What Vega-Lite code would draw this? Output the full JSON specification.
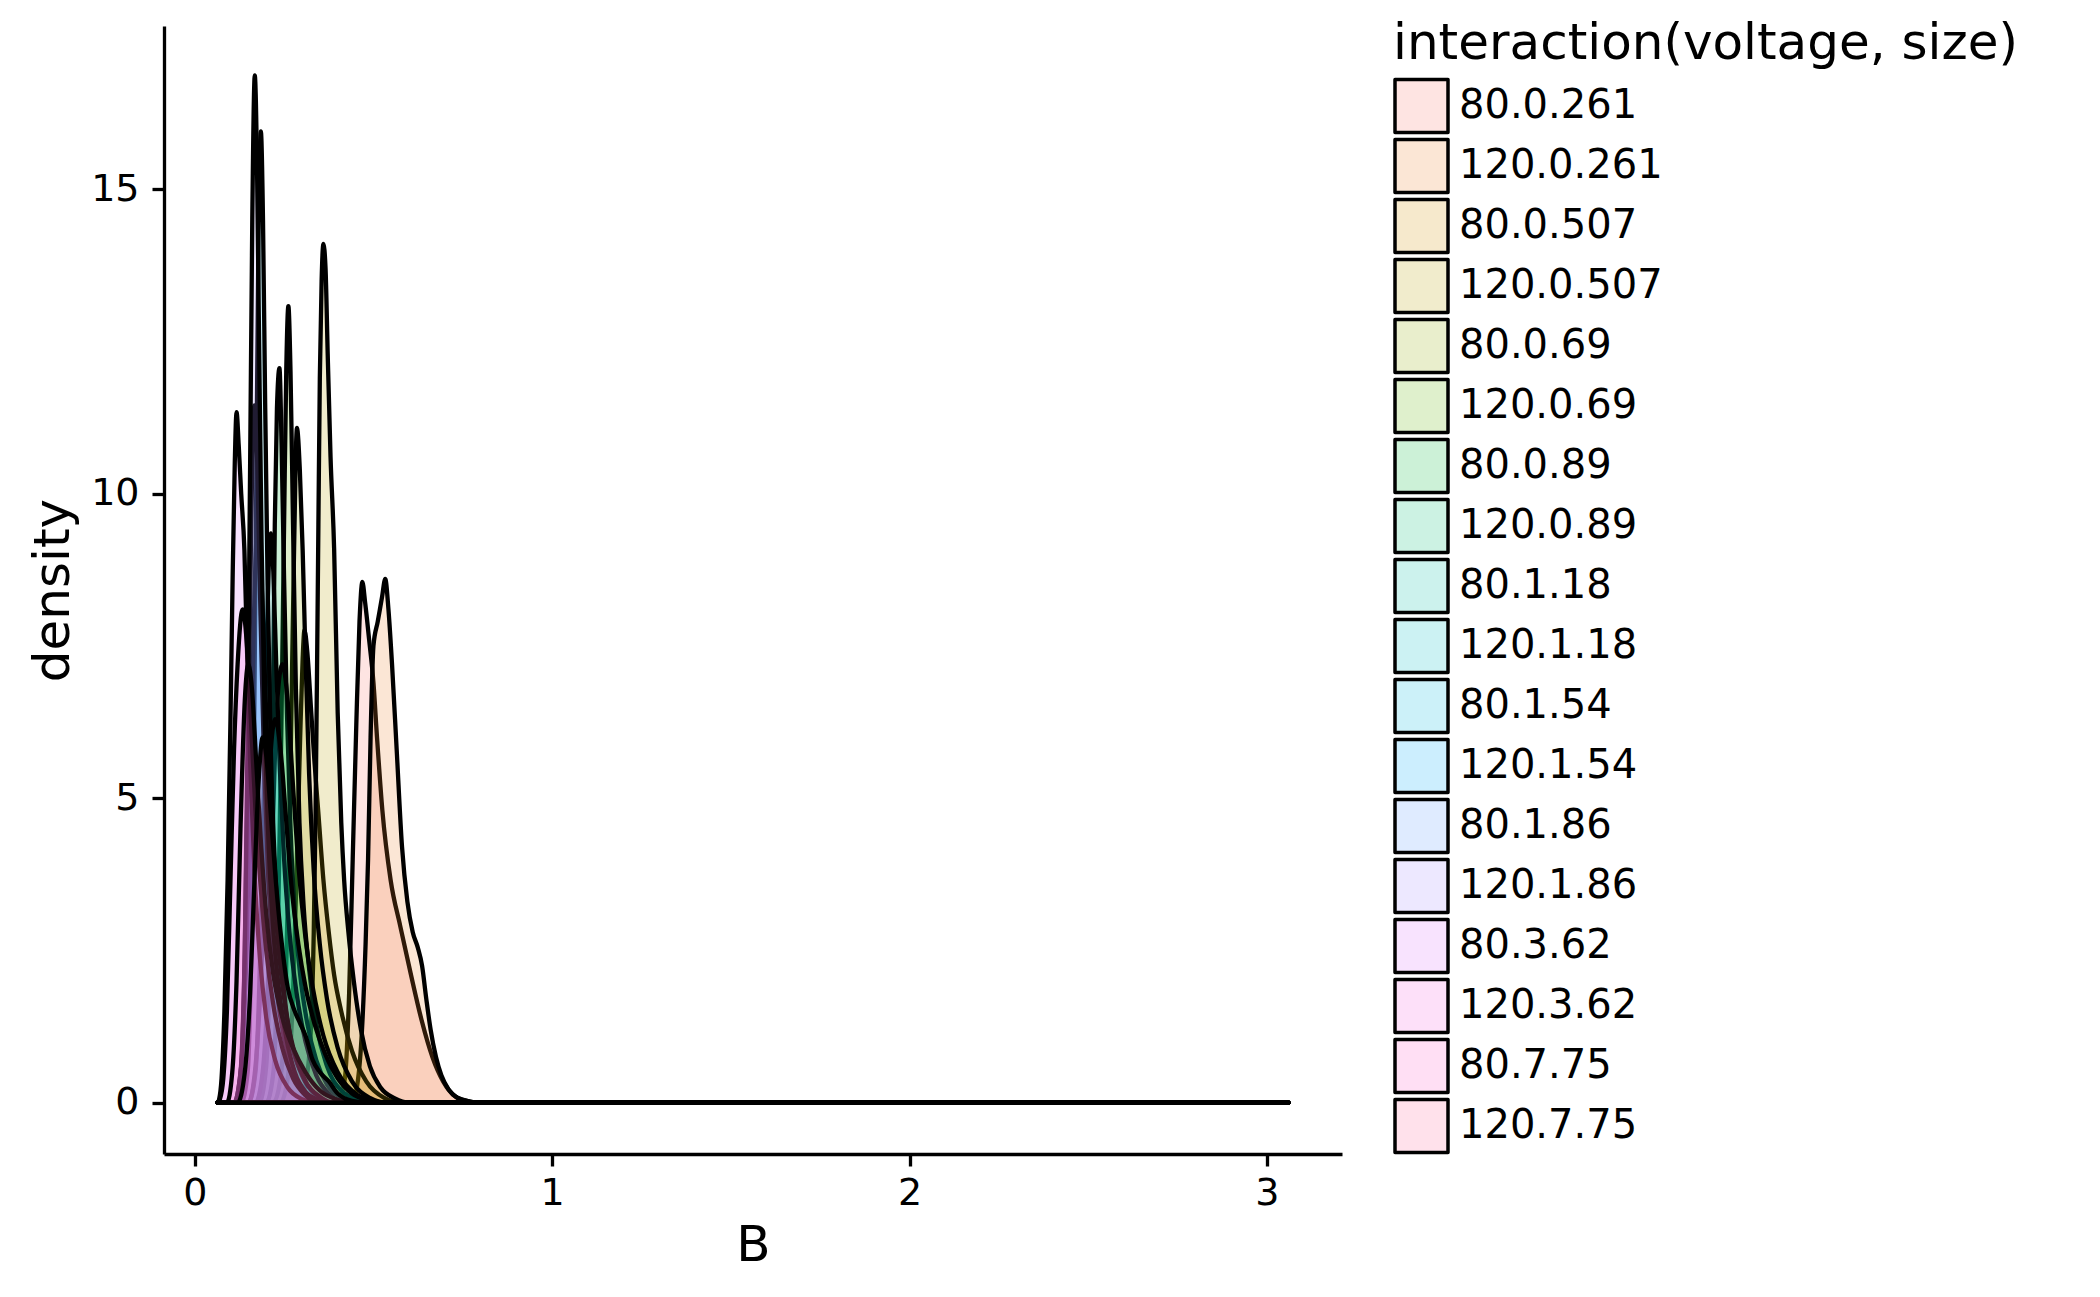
{
  "$schema": "https://vega.github.io/schema/vega-lite/v6.json",
  "width": 1178,
  "height": 1128,
  "autosize": {"type": "none"},
  "padding": {"left": 164, "top": 26, "right": 758, "bottom": 143},
  "background": "white",
  "config": {
    "view": {"stroke": null},
    "font": "DejaVu Sans"
  },
  "data": {
    "values": [
      {"g": "80.0.261", "B": 0.064, "d": 0}, {"g": "80.0.261", "B": 0.40, "d": 0}, {"g": "80.0.261", "B": 0.42, "d": 0.4},
      {"g": "80.0.261", "B": 0.432, "d": 1.8}, {"g": "80.0.261", "B": 0.442, "d": 4.0}, {"g": "80.0.261", "B": 0.452, "d": 6.2},
      {"g": "80.0.261", "B": 0.461, "d": 7.9}, {"g": "80.0.261", "B": 0.469, "d": 8.55}, {"g": "80.0.261", "B": 0.477, "d": 8.2},
      {"g": "80.0.261", "B": 0.488, "d": 7.6}, {"g": "80.0.261", "B": 0.50, "d": 6.9}, {"g": "80.0.261", "B": 0.51, "d": 6.0},
      {"g": "80.0.261", "B": 0.525, "d": 4.8}, {"g": "80.0.261", "B": 0.548, "d": 3.66}, {"g": "80.0.261", "B": 0.575, "d": 2.9},
      {"g": "80.0.261", "B": 0.605, "d": 2.1}, {"g": "80.0.261", "B": 0.635, "d": 1.35}, {"g": "80.0.261", "B": 0.665, "d": 0.75},
      {"g": "80.0.261", "B": 0.695, "d": 0.35}, {"g": "80.0.261", "B": 0.73, "d": 0.1}, {"g": "80.0.261", "B": 0.77, "d": 0.02},
      {"g": "80.0.261", "B": 0.80, "d": 0}, {"g": "80.0.261", "B": 3.06, "d": 0},

      {"g": "120.0.261", "B": 0.064, "d": 0}, {"g": "120.0.261", "B": 0.44, "d": 0}, {"g": "120.0.261", "B": 0.455, "d": 0.3},
      {"g": "120.0.261", "B": 0.468, "d": 1.2}, {"g": "120.0.261", "B": 0.478, "d": 2.6}, {"g": "120.0.261", "B": 0.485, "d": 4.0},
      {"g": "120.0.261", "B": 0.492, "d": 6.0}, {"g": "120.0.261", "B": 0.50, "d": 7.5}, {"g": "120.0.261", "B": 0.512, "d": 7.9},
      {"g": "120.0.261", "B": 0.524, "d": 8.3}, {"g": "120.0.261", "B": 0.533, "d": 8.6}, {"g": "120.0.261", "B": 0.542, "d": 8.1},
      {"g": "120.0.261", "B": 0.552, "d": 7.2}, {"g": "120.0.261", "B": 0.565, "d": 5.8}, {"g": "120.0.261", "B": 0.58, "d": 4.2},
      {"g": "120.0.261", "B": 0.595, "d": 3.3}, {"g": "120.0.261", "B": 0.61, "d": 2.8}, {"g": "120.0.261", "B": 0.624, "d": 2.55},
      {"g": "120.0.261", "B": 0.636, "d": 2.25}, {"g": "120.0.261", "B": 0.648, "d": 1.7}, {"g": "120.0.261", "B": 0.66, "d": 1.2},
      {"g": "120.0.261", "B": 0.675, "d": 0.75}, {"g": "120.0.261", "B": 0.69, "d": 0.45}, {"g": "120.0.261", "B": 0.71, "d": 0.22},
      {"g": "120.0.261", "B": 0.735, "d": 0.08}, {"g": "120.0.261", "B": 0.77, "d": 0.02}, {"g": "120.0.261", "B": 0.80, "d": 0},
      {"g": "120.0.261", "B": 3.06, "d": 0},

      {"g": "80.0.507", "B": 0.064, "d": 0}, {"g": "80.0.507", "B": 0.24, "d": 0}, {"g": "80.0.507", "B": 0.26, "d": 0.4},
      {"g": "80.0.507", "B": 0.275, "d": 1.8}, {"g": "80.0.507", "B": 0.285, "d": 3.8}, {"g": "80.0.507", "B": 0.295, "d": 6.0},
      {"g": "80.0.507", "B": 0.302, "d": 7.3}, {"g": "80.0.507", "B": 0.307, "d": 7.76}, {"g": "80.0.507", "B": 0.315, "d": 7.4},
      {"g": "80.0.507", "B": 0.325, "d": 6.5}, {"g": "80.0.507", "B": 0.335, "d": 5.6}, {"g": "80.0.507", "B": 0.346, "d": 4.75},
      {"g": "80.0.507", "B": 0.36, "d": 3.66}, {"g": "80.0.507", "B": 0.375, "d": 2.8}, {"g": "80.0.507", "B": 0.39, "d": 2.1},
      {"g": "80.0.507", "B": 0.41, "d": 1.5}, {"g": "80.0.507", "B": 0.44, "d": 0.85}, {"g": "80.0.507", "B": 0.48, "d": 0.35},
      {"g": "80.0.507", "B": 0.53, "d": 0.08}, {"g": "80.0.507", "B": 0.58, "d": 0}, {"g": "80.0.507", "B": 3.06, "d": 0},

      {"g": "120.0.507", "B": 0.064, "d": 0}, {"g": "120.0.507", "B": 0.29, "d": 0}, {"g": "120.0.507", "B": 0.31, "d": 0.3},
      {"g": "120.0.507", "B": 0.325, "d": 1.2}, {"g": "120.0.507", "B": 0.333, "d": 2.8}, {"g": "120.0.507", "B": 0.338, "d": 4.7},
      {"g": "120.0.507", "B": 0.342, "d": 7.0}, {"g": "120.0.507", "B": 0.346, "d": 9.5}, {"g": "120.0.507", "B": 0.35, "d": 11.9},
      {"g": "120.0.507", "B": 0.355, "d": 13.5}, {"g": "120.0.507", "B": 0.36, "d": 14.1}, {"g": "120.0.507", "B": 0.366, "d": 13.7},
      {"g": "120.0.507", "B": 0.372, "d": 12.3}, {"g": "120.0.507", "B": 0.38, "d": 10.6}, {"g": "120.0.507", "B": 0.39, "d": 9.1},
      {"g": "120.0.507", "B": 0.40, "d": 6.4}, {"g": "120.0.507", "B": 0.41, "d": 4.6}, {"g": "120.0.507", "B": 0.418, "d": 3.66},
      {"g": "120.0.507", "B": 0.43, "d": 2.8}, {"g": "120.0.507", "B": 0.445, "d": 2.0}, {"g": "120.0.507", "B": 0.465, "d": 1.2},
      {"g": "120.0.507", "B": 0.49, "d": 0.6}, {"g": "120.0.507", "B": 0.52, "d": 0.25}, {"g": "120.0.507", "B": 0.56, "d": 0.07},
      {"g": "120.0.507", "B": 0.60, "d": 0}, {"g": "120.0.507", "B": 3.06, "d": 0},

      {"g": "80.0.69", "B": 0.064, "d": 0}, {"g": "80.0.69", "B": 0.22, "d": 0}, {"g": "80.0.69", "B": 0.24, "d": 0.4},
      {"g": "80.0.69", "B": 0.255, "d": 2.0}, {"g": "80.0.69", "B": 0.265, "d": 4.5}, {"g": "80.0.69", "B": 0.272, "d": 7.0},
      {"g": "80.0.69", "B": 0.278, "d": 9.1}, {"g": "80.0.69", "B": 0.286, "d": 11.08}, {"g": "80.0.69", "B": 0.294, "d": 10.4},
      {"g": "80.0.69", "B": 0.302, "d": 9.07}, {"g": "80.0.69", "B": 0.31, "d": 7.3}, {"g": "80.0.69", "B": 0.32, "d": 5.4},
      {"g": "80.0.69", "B": 0.333, "d": 3.8}, {"g": "80.0.69", "B": 0.35, "d": 2.6}, {"g": "80.0.69", "B": 0.37, "d": 1.7},
      {"g": "80.0.69", "B": 0.40, "d": 0.9}, {"g": "80.0.69", "B": 0.44, "d": 0.35}, {"g": "80.0.69", "B": 0.49, "d": 0.08},
      {"g": "80.0.69", "B": 0.54, "d": 0}, {"g": "80.0.69", "B": 3.06, "d": 0},

      {"g": "120.0.69", "B": 0.064, "d": 0}, {"g": "120.0.69", "B": 0.20, "d": 0}, {"g": "120.0.69", "B": 0.22, "d": 0.5},
      {"g": "120.0.69", "B": 0.232, "d": 2.5}, {"g": "120.0.69", "B": 0.242, "d": 6.0}, {"g": "120.0.69", "B": 0.25, "d": 9.5},
      {"g": "120.0.69", "B": 0.256, "d": 12.0}, {"g": "120.0.69", "B": 0.262, "d": 13.08}, {"g": "120.0.69", "B": 0.268, "d": 12.0},
      {"g": "120.0.69", "B": 0.275, "d": 9.5}, {"g": "120.0.69", "B": 0.283, "d": 6.8}, {"g": "120.0.69", "B": 0.293, "d": 4.6},
      {"g": "120.0.69", "B": 0.305, "d": 3.2}, {"g": "120.0.69", "B": 0.32, "d": 2.2}, {"g": "120.0.69", "B": 0.34, "d": 1.3},
      {"g": "120.0.69", "B": 0.37, "d": 0.6}, {"g": "120.0.69", "B": 0.41, "d": 0.2}, {"g": "120.0.69", "B": 0.46, "d": 0.04},
      {"g": "120.0.69", "B": 0.50, "d": 0}, {"g": "120.0.69", "B": 3.06, "d": 0},

      {"g": "80.0.89", "B": 0.064, "d": 0}, {"g": "80.0.89", "B": 0.18, "d": 0}, {"g": "80.0.89", "B": 0.20, "d": 0.6},
      {"g": "80.0.89", "B": 0.21, "d": 2.5}, {"g": "80.0.89", "B": 0.218, "d": 6.0}, {"g": "80.0.89", "B": 0.224, "d": 9.5},
      {"g": "80.0.89", "B": 0.23, "d": 11.4}, {"g": "80.0.89", "B": 0.237, "d": 12.06}, {"g": "80.0.89", "B": 0.243, "d": 10.8},
      {"g": "80.0.89", "B": 0.25, "d": 8.6}, {"g": "80.0.89", "B": 0.258, "d": 6.4}, {"g": "80.0.89", "B": 0.268, "d": 4.5},
      {"g": "80.0.89", "B": 0.28, "d": 3.1}, {"g": "80.0.89", "B": 0.295, "d": 2.1}, {"g": "80.0.89", "B": 0.315, "d": 1.3},
      {"g": "80.0.89", "B": 0.34, "d": 0.7}, {"g": "80.0.89", "B": 0.37, "d": 0.3}, {"g": "80.0.89", "B": 0.41, "d": 0.08},
      {"g": "80.0.89", "B": 0.45, "d": 0}, {"g": "80.0.89", "B": 3.06, "d": 0},

      {"g": "120.0.89", "B": 0.064, "d": 0}, {"g": "120.0.89", "B": 0.17, "d": 0}, {"g": "120.0.89", "B": 0.19, "d": 0.5},
      {"g": "120.0.89", "B": 0.205, "d": 2.0}, {"g": "120.0.89", "B": 0.218, "d": 4.5}, {"g": "120.0.89", "B": 0.23, "d": 6.5},
      {"g": "120.0.89", "B": 0.245, "d": 7.2}, {"g": "120.0.89", "B": 0.26, "d": 6.6}, {"g": "120.0.89", "B": 0.275, "d": 5.2},
      {"g": "120.0.89", "B": 0.29, "d": 3.9}, {"g": "120.0.89", "B": 0.31, "d": 2.7}, {"g": "120.0.89", "B": 0.33, "d": 1.9},
      {"g": "120.0.89", "B": 0.36, "d": 1.1}, {"g": "120.0.89", "B": 0.40, "d": 0.5}, {"g": "120.0.89", "B": 0.45, "d": 0.15},
      {"g": "120.0.89", "B": 0.50, "d": 0.03}, {"g": "120.0.89", "B": 0.54, "d": 0}, {"g": "120.0.89", "B": 3.06, "d": 0},

      {"g": "80.1.18", "B": 0.064, "d": 0}, {"g": "80.1.18", "B": 0.15, "d": 0}, {"g": "80.1.18", "B": 0.17, "d": 0.5},
      {"g": "80.1.18", "B": 0.182, "d": 2.2}, {"g": "80.1.18", "B": 0.192, "d": 4.8}, {"g": "80.1.18", "B": 0.201, "d": 7.5},
      {"g": "80.1.18", "B": 0.207, "d": 8.8}, {"g": "80.1.18", "B": 0.213, "d": 9.35}, {"g": "80.1.18", "B": 0.22, "d": 8.7},
      {"g": "80.1.18", "B": 0.228, "d": 7.2}, {"g": "80.1.18", "B": 0.238, "d": 5.5}, {"g": "80.1.18", "B": 0.25, "d": 4.0},
      {"g": "80.1.18", "B": 0.265, "d": 2.8}, {"g": "80.1.18", "B": 0.285, "d": 1.8}, {"g": "80.1.18", "B": 0.31, "d": 1.0},
      {"g": "80.1.18", "B": 0.34, "d": 0.45}, {"g": "80.1.18", "B": 0.38, "d": 0.12}, {"g": "80.1.18", "B": 0.42, "d": 0},
      {"g": "80.1.18", "B": 3.06, "d": 0},

      {"g": "120.1.18", "B": 0.064, "d": 0}, {"g": "120.1.18", "B": 0.15, "d": 0}, {"g": "120.1.18", "B": 0.17, "d": 0.6},
      {"g": "120.1.18", "B": 0.185, "d": 2.0}, {"g": "120.1.18", "B": 0.20, "d": 4.2}, {"g": "120.1.18", "B": 0.213, "d": 5.8},
      {"g": "120.1.18", "B": 0.225, "d": 6.3}, {"g": "120.1.18", "B": 0.24, "d": 5.8}, {"g": "120.1.18", "B": 0.255, "d": 4.7},
      {"g": "120.1.18", "B": 0.27, "d": 3.6}, {"g": "120.1.18", "B": 0.29, "d": 2.6}, {"g": "120.1.18", "B": 0.31, "d": 1.9},
      {"g": "120.1.18", "B": 0.335, "d": 1.3}, {"g": "120.1.18", "B": 0.365, "d": 0.8}, {"g": "120.1.18", "B": 0.40, "d": 0.4},
      {"g": "120.1.18", "B": 0.44, "d": 0.15}, {"g": "120.1.18", "B": 0.49, "d": 0.03}, {"g": "120.1.18", "B": 0.53, "d": 0},
      {"g": "120.1.18", "B": 3.06, "d": 0},

      {"g": "80.1.54", "B": 0.064, "d": 0}, {"g": "80.1.54", "B": 0.13, "d": 0}, {"g": "80.1.54", "B": 0.148, "d": 0.5},
      {"g": "80.1.54", "B": 0.158, "d": 2.5}, {"g": "80.1.54", "B": 0.166, "d": 6.0}, {"g": "80.1.54", "B": 0.172, "d": 10.0},
      {"g": "80.1.54", "B": 0.178, "d": 14.0}, {"g": "80.1.54", "B": 0.185, "d": 15.95}, {"g": "80.1.54", "B": 0.191, "d": 14.5},
      {"g": "80.1.54", "B": 0.197, "d": 11.5}, {"g": "80.1.54", "B": 0.204, "d": 8.5}, {"g": "80.1.54", "B": 0.212, "d": 6.0},
      {"g": "80.1.54", "B": 0.222, "d": 4.2}, {"g": "80.1.54", "B": 0.235, "d": 2.8}, {"g": "80.1.54", "B": 0.25, "d": 1.8},
      {"g": "80.1.54", "B": 0.27, "d": 1.0}, {"g": "80.1.54", "B": 0.30, "d": 0.45}, {"g": "80.1.54", "B": 0.34, "d": 0.12},
      {"g": "80.1.54", "B": 0.38, "d": 0}, {"g": "80.1.54", "B": 3.06, "d": 0},

      {"g": "120.1.54", "B": 0.064, "d": 0}, {"g": "120.1.54", "B": 0.11, "d": 0}, {"g": "120.1.54", "B": 0.13, "d": 0.6},
      {"g": "120.1.54", "B": 0.145, "d": 2.5}, {"g": "120.1.54", "B": 0.157, "d": 5.5}, {"g": "120.1.54", "B": 0.167, "d": 8.3},
      {"g": "120.1.54", "B": 0.176, "d": 9.5}, {"g": "120.1.54", "B": 0.185, "d": 8.8}, {"g": "120.1.54", "B": 0.195, "d": 7.2},
      {"g": "120.1.54", "B": 0.207, "d": 5.3}, {"g": "120.1.54", "B": 0.22, "d": 3.7}, {"g": "120.1.54", "B": 0.235, "d": 2.5},
      {"g": "120.1.54", "B": 0.255, "d": 1.5}, {"g": "120.1.54", "B": 0.28, "d": 0.8}, {"g": "120.1.54", "B": 0.31, "d": 0.35},
      {"g": "120.1.54", "B": 0.35, "d": 0.1}, {"g": "120.1.54", "B": 0.39, "d": 0}, {"g": "120.1.54", "B": 3.06, "d": 0},

      {"g": "80.1.86", "B": 0.064, "d": 0}, {"g": "80.1.86", "B": 0.11, "d": 0}, {"g": "80.1.86", "B": 0.128, "d": 0.5},
      {"g": "80.1.86", "B": 0.14, "d": 2.5}, {"g": "80.1.86", "B": 0.15, "d": 6.0}, {"g": "80.1.86", "B": 0.158, "d": 9.5},
      {"g": "80.1.86", "B": 0.167, "d": 11.45}, {"g": "80.1.86", "B": 0.175, "d": 10.5}, {"g": "80.1.86", "B": 0.184, "d": 8.0},
      {"g": "80.1.86", "B": 0.194, "d": 5.6}, {"g": "80.1.86", "B": 0.205, "d": 3.8}, {"g": "80.1.86", "B": 0.218, "d": 2.6},
      {"g": "80.1.86", "B": 0.235, "d": 1.6}, {"g": "80.1.86", "B": 0.26, "d": 0.8}, {"g": "80.1.86", "B": 0.29, "d": 0.3},
      {"g": "80.1.86", "B": 0.33, "d": 0.08}, {"g": "80.1.86", "B": 0.37, "d": 0}, {"g": "80.1.86", "B": 3.06, "d": 0},

      {"g": "120.1.86", "B": 0.064, "d": 0}, {"g": "120.1.86", "B": 0.115, "d": 0}, {"g": "120.1.86", "B": 0.13, "d": 0.6},
      {"g": "120.1.86", "B": 0.14, "d": 2.5}, {"g": "120.1.86", "B": 0.148, "d": 6.0}, {"g": "120.1.86", "B": 0.155, "d": 10.5},
      {"g": "120.1.86", "B": 0.161, "d": 14.5}, {"g": "120.1.86", "B": 0.168, "d": 16.87}, {"g": "120.1.86", "B": 0.174, "d": 15.5},
      {"g": "120.1.86", "B": 0.18, "d": 12.5}, {"g": "120.1.86", "B": 0.187, "d": 9.2}, {"g": "120.1.86", "B": 0.195, "d": 6.5},
      {"g": "120.1.86", "B": 0.205, "d": 4.5}, {"g": "120.1.86", "B": 0.218, "d": 3.0}, {"g": "120.1.86", "B": 0.235, "d": 1.9},
      {"g": "120.1.86", "B": 0.255, "d": 1.1}, {"g": "120.1.86", "B": 0.28, "d": 0.5}, {"g": "120.1.86", "B": 0.31, "d": 0.18},
      {"g": "120.1.86", "B": 0.35, "d": 0.04}, {"g": "120.1.86", "B": 0.39, "d": 0}, {"g": "120.1.86", "B": 3.06, "d": 0},

      {"g": "80.3.62", "B": 0.064, "d": 0}, {"g": "80.3.62", "B": 0.068, "d": 0.05}, {"g": "80.3.62", "B": 0.075, "d": 0.4},
      {"g": "80.3.62", "B": 0.083, "d": 1.5}, {"g": "80.3.62", "B": 0.092, "d": 3.66}, {"g": "80.3.62", "B": 0.10, "d": 6.3},
      {"g": "80.3.62", "B": 0.106, "d": 8.6}, {"g": "80.3.62", "B": 0.112, "d": 10.5}, {"g": "80.3.62", "B": 0.117, "d": 11.34},
      {"g": "80.3.62", "B": 0.123, "d": 10.8}, {"g": "80.3.62", "B": 0.13, "d": 10.0}, {"g": "80.3.62", "B": 0.139, "d": 9.07},
      {"g": "80.3.62", "B": 0.146, "d": 7.5}, {"g": "80.3.62", "B": 0.155, "d": 5.6}, {"g": "80.3.62", "B": 0.167, "d": 3.8},
      {"g": "80.3.62", "B": 0.182, "d": 2.4}, {"g": "80.3.62", "B": 0.20, "d": 1.4}, {"g": "80.3.62", "B": 0.225, "d": 0.7},
      {"g": "80.3.62", "B": 0.26, "d": 0.25}, {"g": "80.3.62", "B": 0.30, "d": 0.06}, {"g": "80.3.62", "B": 0.34, "d": 0},
      {"g": "80.3.62", "B": 3.06, "d": 0},

      {"g": "120.3.62", "B": 0.064, "d": 0}, {"g": "120.3.62", "B": 0.07, "d": 0.05}, {"g": "120.3.62", "B": 0.08, "d": 0.4},
      {"g": "120.3.62", "B": 0.09, "d": 1.5}, {"g": "120.3.62", "B": 0.10, "d": 3.66}, {"g": "120.3.62", "B": 0.11, "d": 5.8},
      {"g": "120.3.62", "B": 0.12, "d": 7.2}, {"g": "120.3.62", "B": 0.134, "d": 8.1}, {"g": "120.3.62", "B": 0.145, "d": 7.6},
      {"g": "120.3.62", "B": 0.157, "d": 6.3}, {"g": "120.3.62", "B": 0.17, "d": 4.8}, {"g": "120.3.62", "B": 0.185, "d": 3.5},
      {"g": "120.3.62", "B": 0.20, "d": 2.5}, {"g": "120.3.62", "B": 0.22, "d": 1.6}, {"g": "120.3.62", "B": 0.245, "d": 0.9},
      {"g": "120.3.62", "B": 0.275, "d": 0.4}, {"g": "120.3.62", "B": 0.31, "d": 0.12}, {"g": "120.3.62", "B": 0.35, "d": 0},
      {"g": "120.3.62", "B": 3.06, "d": 0},

      {"g": "80.7.75", "B": 0.064, "d": 0}, {"g": "80.7.75", "B": 0.09, "d": 0}, {"g": "80.7.75", "B": 0.105, "d": 0.5},
      {"g": "80.7.75", "B": 0.117, "d": 2.0}, {"g": "80.7.75", "B": 0.128, "d": 4.5}, {"g": "80.7.75", "B": 0.14, "d": 6.6},
      {"g": "80.7.75", "B": 0.15, "d": 7.2}, {"g": "80.7.75", "B": 0.16, "d": 6.8}, {"g": "80.7.75", "B": 0.172, "d": 5.6},
      {"g": "80.7.75", "B": 0.186, "d": 4.2}, {"g": "80.7.75", "B": 0.20, "d": 3.1}, {"g": "80.7.75", "B": 0.22, "d": 2.1},
      {"g": "80.7.75", "B": 0.245, "d": 1.4}, {"g": "80.7.75", "B": 0.275, "d": 0.9}, {"g": "80.7.75", "B": 0.31, "d": 0.5},
      {"g": "80.7.75", "B": 0.35, "d": 0.2}, {"g": "80.7.75", "B": 0.40, "d": 0.05}, {"g": "80.7.75", "B": 0.44, "d": 0},
      {"g": "80.7.75", "B": 3.06, "d": 0},

      {"g": "120.7.75", "B": 0.064, "d": 0}, {"g": "120.7.75", "B": 0.12, "d": 0}, {"g": "120.7.75", "B": 0.14, "d": 0.5},
      {"g": "120.7.75", "B": 0.155, "d": 1.8}, {"g": "120.7.75", "B": 0.168, "d": 3.8}, {"g": "120.7.75", "B": 0.18, "d": 5.4},
      {"g": "120.7.75", "B": 0.19, "d": 6.0}, {"g": "120.7.75", "B": 0.20, "d": 5.7}, {"g": "120.7.75", "B": 0.212, "d": 4.8},
      {"g": "120.7.75", "B": 0.226, "d": 3.7}, {"g": "120.7.75", "B": 0.242, "d": 2.7}, {"g": "120.7.75", "B": 0.26, "d": 1.9},
      {"g": "120.7.75", "B": 0.28, "d": 1.5}, {"g": "120.7.75", "B": 0.295, "d": 1.3}, {"g": "120.7.75", "B": 0.31, "d": 1.1},
      {"g": "120.7.75", "B": 0.33, "d": 0.7}, {"g": "120.7.75", "B": 0.35, "d": 0.5}, {"g": "120.7.75", "B": 0.375, "d": 0.35},
      {"g": "120.7.75", "B": 0.40, "d": 0.15}, {"g": "120.7.75", "B": 0.44, "d": 0.03}, {"g": "120.7.75", "B": 0.48, "d": 0},
      {"g": "120.7.75", "B": 3.06, "d": 0}
    ]
  },
  "mark": {
    "type": "area",
    "interpolate": "monotone",
    "stroke": "black",
    "strokeWidth": 4.3,
    "strokeJoin": "round",
    "fillOpacity": 0.2
  },
  "encoding": {
    "x": {
      "field": "B",
      "type": "quantitative",
      "scale": {"domain": [-0.086, 3.21], "nice": false, "zero": false},
      "axis": {
        "title": "B",
        "values": [0, 1, 2, 3],
        "format": "d",
        "grid": false,
        "domainColor": "black",
        "domainWidth": 3.3,
        "tickColor": "black",
        "tickWidth": 3.3,
        "tickSize": 12,
        "labelFontSize": 38,
        "labelColor": "black",
        "labelPadding": 8,
        "titleFontSize": 50,
        "titleFontWeight": "normal",
        "titleColor": "black",
        "titlePadding": 8
      }
    },
    "y": {
      "field": "d",
      "type": "quantitative",
      "stack": null,
      "scale": {"domain": [-0.842, 17.68], "nice": false, "zero": false},
      "axis": {
        "title": "density",
        "values": [0, 5, 10, 15],
        "grid": false,
        "domainColor": "black",
        "domainWidth": 3.3,
        "tickColor": "black",
        "tickWidth": 3.3,
        "tickSize": 12,
        "labelFontSize": 38,
        "labelColor": "black",
        "labelPadding": 13,
        "titleFontSize": 50,
        "titleFontWeight": "normal",
        "titleColor": "black",
        "titlePadding": 12
      }
    },
    "color": {
      "field": "g",
      "type": "nominal",
      "scale": {
        "domain": ["80.0.261", "120.0.261", "80.0.507", "120.0.507", "80.0.69", "120.0.69", "80.0.89", "120.0.89", "80.1.18", "120.1.18", "80.1.54", "120.1.54", "80.1.86", "120.1.86", "80.3.62", "120.3.62", "80.7.75", "120.7.75"],
        "range": ["#F8766D", "#E9842C", "#D39200", "#B79F00", "#93AA00", "#5EB300", "#00BA38", "#00BF74", "#00C0A3", "#00BFC4", "#00B9E3", "#00ACFC", "#619CFF", "#A58AFF", "#DB72FB", "#F564E3", "#FD61C6", "#FF6A9A"]
      },
      "legend": {
        "title": "interaction(voltage, size)",
        "orient": "none",
        "legendX": 1229,
        "legendY": -7.5,
        "padding": 0,
        "titleFontSize": 50,
        "titleFontWeight": "normal",
        "titleColor": "black",
        "titlePadding": 9,
        "titleLimit": 1000,
        "labelFontSize": 40,
        "labelColor": "black",
        "labelOffset": 9,
        "labelLimit": 600,
        "symbolType": "square",
        "symbolSize": 2809,
        "symbolStrokeWidth": 3.5,
        "symbolStrokeColor": "black",
        "rowPadding": 3,
        "encode": {
          "symbols": {
            "update": {
              "fillOpacity": {"value": 0.2},
              "stroke": {"value": "black"},
              "strokeWidth": {"value": 3.5},
              "strokeJoin": {"value": "round"}
            }
          }
        }
      }
    }
  }
}
